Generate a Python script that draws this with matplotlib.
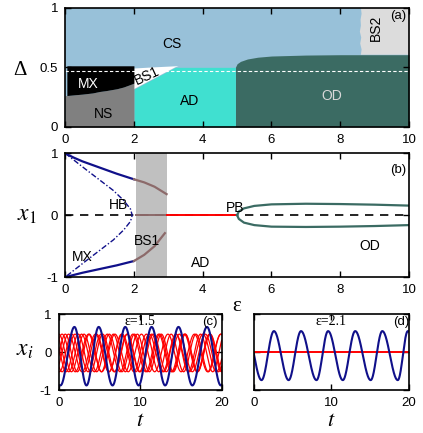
import numpy as np
import matplotlib.pyplot as plt

plt.rcParams['font.family'] = ['Liberation Sans', 'DejaVu Sans']
plt.rcParams['mathtext.fontset'] = 'stix'
plt.rcParams['font.size'] = 9.5
plt.rcParams['axes.unicode_minus'] = False

# ---- panel (a): phase diagram regions (eps, Delta) ----
cs_x = [0, 10]
cs_top = [1, 1]
bs2_x = [10, 10, 8.60, 8.62, 8.58, 8.61, 8.57, 8.60, 8.59, 8.62, 8.60]
bs2_y = [1.0, 0.606, 0.606, 0.65, 0.70, 0.75, 0.80, 0.85, 0.90, 0.95, 1.0]
od_x = [4.95, 5.0, 5.1, 5.3, 5.6, 6.0, 7.0, 8.0, 10.0]
od_top = [0.50, 0.53, 0.55, 0.57, 0.585, 0.595, 0.603, 0.606, 0.606]
ad_x = [2.0, 3.2, 4.95]
ad_top = [0.317, 0.50, 0.50]
bs1_x = [2.0, 2.0, 2.6, 3.3, 3.2]
bs1_y = [0.317, 0.49, 0.50, 0.51, 0.50]
mx_x = [0.05, 0.3, 0.5, 0.8, 1.0, 1.2, 1.5, 1.7, 2.0]
mx_lo = [0.263, 0.27, 0.275, 0.285, 0.297, 0.305, 0.32, 0.335, 0.367]
mx_top = 0.513
ns_x = [0.0] + mx_x
ns_top = [0.263] + mx_lo
delta_line = 0.465

# ---- panel (b): bifurcation branches of x_1 ----
up_x = [0, 0.25, 0.5, 1.0, 1.5, 2.0]
up_y = [1.0, 0.93, 0.87, 0.77, 0.67, 0.58]
up2_x = [2.0, 2.3, 2.6, 2.95]
up2_y = [0.58, 0.53, 0.46, 0.34]
lo_x = [0, 0.5, 1.0, 1.5, 2.0]
lo_y = [-1.0, -0.93, -0.87, -0.81, -0.74]
lo2_x = [2.0, 2.3, 2.6, 2.9]
lo2_y = [-0.74, -0.64, -0.50, -0.29]
hb_x = [0, 0.3, 0.6, 1.0, 1.4, 1.7, 1.9, 1.95, 1.9, 1.7, 1.4, 1.0, 0.6, 0.3, 0]
hb_y = [1.0, 0.87, 0.74, 0.57, 0.40, 0.24, 0.10, 0.0, -0.10, -0.24, -0.40, -0.57, -0.74, -0.87, -1.0]
od_bx = [5.0, 5.05, 5.2, 5.5, 6.0, 7.0, 8.0, 9.0, 10.0]
od_up = [0.0, 0.06, 0.11, 0.15, 0.175, 0.185, 0.18, 0.17, 0.155]
od_lo = [0.0, -0.06, -0.12, -0.16, -0.185, -0.19, -0.185, -0.175, -0.16]
band = (2.05, 2.95)
ad_seg = [2.95, 5.0]

# ---- panels (c), (d): time series extrema ----
c_blue_t = [0.2, 1.92, 3.4, 4.9, 6.6, 8.16, 9.8, 11.4, 13.06, 14.7, 16.4, 18.2, 19.9, 21.5]
c_blue_x = [-0.88, 0.66, -0.88, 0.66, -0.88, 0.66, -0.88, 0.66, -0.88, 0.66, -0.88, 0.66, -0.88, 0.66]
red_phase = [0.0, 0.4, 0.8, 1.2, 1.6, 2.0, 2.4, 2.8]
red_period = [3.1, 3.25, 2.95, 3.3, 3.05, 3.2, 3.0, 3.15]
red_amp = [0.47, -0.52]
d_blue_t = [-0.9, 1.0, 2.6, 4.5, 6.1, 8.1, 9.6, 11.5, 13.1, 15.1, 16.6, 18.6, 19.9, 21.8]
d_blue_x = [0.55, -0.74, 0.55, -0.74, 0.55, -0.74, 0.55, -0.74, 0.55, -0.74, 0.55, -0.74, 0.55, -0.74]

navy = '#10108a'
brown = '#8c6a6a'
teal = '#3b6b63'


def wave(ext_t, ext_x, t):
    ext_t = np.asarray(ext_t)
    ext_x = np.asarray(ext_x)
    i = np.clip(np.searchsorted(ext_t, t) - 1, 0, len(ext_t) - 2)
    f = (t - ext_t[i]) / (ext_t[i + 1] - ext_t[i])
    f = np.clip(f, 0, 1)
    return ext_x[i] + (ext_x[i + 1] - ext_x[i]) * (1 - np.cos(np.pi * f)) / 2


def style(ax):
    ax.tick_params(direction='in', top=True, right=True, length=4, width=1, pad=5)
    for s in ax.spines.values():
        s.set_linewidth(1.2)


fig = plt.figure(figsize=(4.23, 4.33), dpi=100)
ax1 = fig.add_axes([0.154, 0.707, 0.813, 0.275])
ax2 = fig.add_axes([0.154, 0.360, 0.813, 0.286])
ax3 = fig.add_axes([0.139, 0.0993, 0.385, 0.1755])
ax4 = fig.add_axes([0.600, 0.0993, 0.366, 0.1755])

# (a)
ax1.fill_between(cs_x, 0, cs_top, color='#98c1d9', lw=0)
ax1.fill(bs2_x, bs2_y, color='#dcdcdc', lw=0)
ax1.fill_between(od_x, 0, od_top, color=teal, lw=0)
ax1.fill_between(ad_x, 0, ad_top, color='#40e0d0', lw=0)
ax1.fill(bs1_x, bs1_y, color='white', lw=0)
ax1.fill_between(ns_x, 0, ns_top, color='#808080', lw=0)
ax1.fill_between(mx_x, mx_lo, mx_top, color='black', lw=0)
ax1.axhline(delta_line, color='white', lw=0.8, ls=(0, (3, 2)))
ax1.text(3.1, 0.70, 'CS', ha='center', va='center', fontsize=10)
ax1.text(0.68, 0.36, 'MX', ha='center', va='center', fontsize=10, color='white')
ax1.text(1.11, 0.11, 'NS', ha='center', va='center', fontsize=10)
ax1.text(2.37, 0.43, 'BS1', ha='center', va='center', fontsize=10, rotation=25)
ax1.text(3.63, 0.22, 'AD', ha='center', va='center', fontsize=10)
ax1.text(7.76, 0.26, 'OD', ha='center', va='center', fontsize=10, color='#d8d8d8')
ax1.text(9.03, 0.83, 'BS2', ha='center', va='center', fontsize=10, rotation=90)
ax1.text(9.68, 0.93, '(a)', ha='center', va='center', fontsize=9.5)
ax1.set_xlim(0, 10)
ax1.set_ylim(0, 1)
ax1.set_xticks([0, 2, 4, 6, 8, 10])
ax1.set_yticks([0, 0.5, 1])
ax1.set_yticklabels(['0', '0.5', '1'])
style(ax1)

# (b)
ax2.axvspan(band[0], band[1], color='#c0c0c0', lw=0)
ax2.axhline(0, color='black', lw=1.2, ls=(0, (5, 4)))
ax2.plot(band, [0, 0], color=brown, lw=1.4)
ax2.plot(ad_seg, [0, 0], color='red', lw=1.4)
ax2.plot(hb_x, hb_y, color=navy, lw=1.0, ls=(0, (4, 1.5, 1, 1.5)))
ax2.plot(up_x, up_y, color=navy, lw=1.6)
ax2.plot(lo_x, lo_y, color=navy, lw=1.6)
ax2.plot(up2_x, up2_y, color=brown, lw=1.6)
ax2.plot(lo2_x, lo2_y, color=brown, lw=1.6)
ax2.plot(od_bx, od_up, color=teal, lw=1.6)
ax2.plot(od_bx, od_lo, color=teal, lw=1.6)
ax2.text(1.55, 0.17, 'HB', ha='center', va='center', fontsize=10)
ax2.text(4.94, 0.12, 'PB', ha='center', va='center', fontsize=10)
ax2.text(2.37, -0.42, 'BS1', ha='center', va='center', fontsize=10)
ax2.text(0.51, -0.67, 'MX', ha='center', va='center', fontsize=10)
ax2.text(3.94, -0.77, 'AD', ha='center', va='center', fontsize=10)
ax2.text(8.86, -0.49, 'OD', ha='center', va='center', fontsize=10)
ax2.text(9.68, 0.73, '(b)', ha='center', va='center', fontsize=9.5)
ax2.set_xlim(0, 10)
ax2.set_ylim(-1, 1)
ax2.set_xticks([0, 2, 4, 6, 8, 10])
ax2.set_yticks([-1, 0, 1])
style(ax2)

# (c)
t = np.linspace(0, 20, 1500)
for ph, per in zip(red_phase, red_period):
    n = int(24 / per) + 2
    et, ex = [], []
    for k in range(-1, n):
        et += [ph + k * per, ph + (k + 0.5) * per]
        ex += red_amp
    ax3.plot(t, wave(et, ex, t), color='red', lw=0.9)
ax3.plot(t, wave(c_blue_t, c_blue_x, t), color=navy, lw=1.5)
ax3.text(10, 0.8, 'ε=1.5', ha='center', va='center', fontsize=10, family='Liberation Serif')
ax3.text(18.6, 0.78, '(c)', ha='center', va='center', fontsize=9.5)
ax3.set_xlim(0, 20)
ax3.set_ylim(-1, 1)
ax3.set_xticks([0, 10, 20])
ax3.set_yticks([-1, 0, 1])
style(ax3)

# (d)
ax4.axhline(0, color='red', lw=1.4)
ax4.plot(t, wave(d_blue_t, d_blue_x, t), color=navy, lw=1.5)
ax4.text(10, 0.8, 'ε=2.1', ha='center', va='center', fontsize=10, family='Liberation Serif')
ax4.text(19.0, 0.78, '(d)', ha='center', va='center', fontsize=9.5)
ax4.set_xlim(0, 20)
ax4.set_ylim(-1, 1)
ax4.set_xticks([0, 10, 20])
ax4.set_yticks([-1, 0, 1])
ax4.set_yticklabels([])
style(ax4)

fig.text(0.047, 0.838, 'Δ', fontsize=15, family='Liberation Serif', ha='center', va='center')
fig.text(0.064, 0.503, r'$x_1$', fontsize=17, ha='center', va='center')
fig.text(0.059, 0.192, r'$x_i$', fontsize=17, ha='center', va='center')
fig.text(0.560, 0.291, 'ε', fontsize=15, family='Liberation Serif', ha='center', va='center')
fig.text(140.7 / 423, 1 - 421 / 433, r'$t$', fontsize=16, ha='center', va='center')
fig.text(331.7 / 423, 1 - 421 / 433, r'$t$', fontsize=16, ha='center', va='center')

fig.savefig('out.png', dpi=100)
